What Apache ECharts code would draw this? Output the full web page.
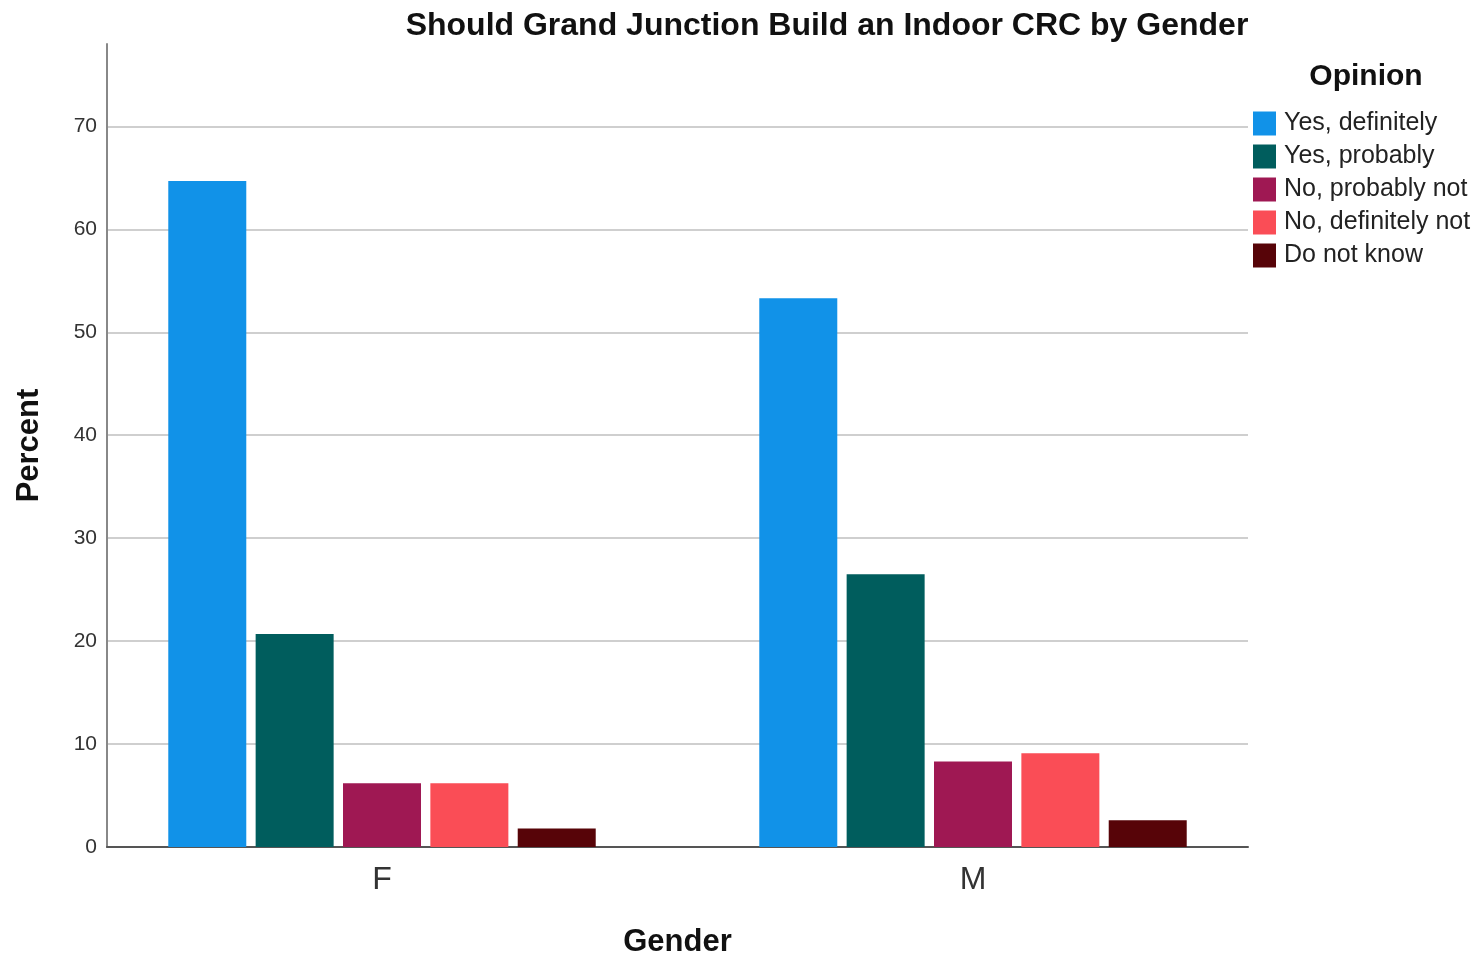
<!DOCTYPE html>
<html>
<head>
<meta charset="utf-8">
<script src="https://cdn.jsdelivr.net/npm/echarts@6/dist/echarts.min.js"></script>
<style>
html,body{margin:0;padding:0;background:#fff;}
#chart{width:1483px;height:959px;}
</style>
</head>
<body>
<div id="chart"></div>
<script>
// Data
var categories = ['F', 'M'];
var opinions = ['Yes, definitely', 'Yes, probably', 'No, probably not', 'No, definitely not', 'Do not know'];
var yesDefinitely = [64.7, 53.3];
var yesProbably = [20.7, 26.5];
var noProbablyNot = [6.2, 8.3];
var noDefinitelyNot = [6.2, 9.1];
var doNotKnow = [1.8, 2.6];
var yTicks = [0, 10, 20, 30, 40, 50, 60, 70];

var seriesValues = [yesDefinitely, yesProbably, noProbablyNot, noDefinitelyNot, doNotKnow];
var colors = ['#1192e8', '#005d5d', '#9f1853', '#fa4d56', '#570408'];

var chart = echarts.init(document.getElementById('chart'), null, {renderer: 'canvas'});
var font = 'Liberation Sans, Arial, sans-serif';

var series = opinions.map(function (name, i) {
  return {
    name: name,
    type: 'bar',
    xAxisIndex: 0,
    yAxisIndex: 0,
    data: seriesValues[i],
    barWidth: 78,
    barGap: '12%',
    itemStyle: {color: colors[i]},
    z: 3
  };
});

var option = {
  backgroundColor: '#ffffff',
  animation: false,
  color: colors,
  title: [
    {
      text: 'Should Grand Junction Build an Indoor CRC by Gender',
      left: 822, top: 5, textAlign: 'center',
      textStyle: {fontFamily: font, fontSize: 32, fontWeight: 'bold', color: '#111'}
    },
    {
      text: 'Opinion',
      left: 1361, top: 57, textAlign: 'center',
      textStyle: {fontFamily: font, fontSize: 30, fontWeight: 'bold', color: '#111'}
    }
  ],
  legend: {
    data: opinions,
    orient: 'vertical',
    left: 1253, top: 111,
    itemWidth: 23, itemHeight: 24, itemGap: 8,
    icon: 'rect',
    padding: 0,
    textStyle: {fontFamily: font, fontSize: 25, color: '#222', lineHeight: 24, padding: [0, 0, 0, 3]}
  },
  grid: [
    {left: 86.5, right: 214.5, top: 44, bottom: 112, containLabel: false, outerBoundsMode: 'none'},
    {left: 107, right: 235, top: 44, bottom: 112, containLabel: false, outerBoundsMode: 'none'}
  ],
  xAxis: [
    {
      gridIndex: 0, type: 'category', data: categories,
      axisLine: {show: false}, axisTick: {show: false},
      axisLabel: {fontFamily: font, fontSize: 32, color: '#333', margin: 17},
      splitLine: {show: false}
    },
    {
      gridIndex: 1, type: 'category', data: categories,
      axisLine: {show: true, lineStyle: {color: '#555', width: 2}},
      axisTick: {show: false}, axisLabel: {show: false},
      splitLine: {show: false},
      name: 'Gender', nameLocation: 'middle', nameGap: 80,
      nameTextStyle: {fontFamily: font, fontSize: 31, fontWeight: 'bold', color: '#111'}
    }
  ],
  yAxis: [
    {gridIndex: 0, type: 'value', min: 0, max: 78, show: false, splitLine: {show: false}},
    {
      gridIndex: 1, type: 'value', min: 0, max: 78, interval: 10,
      axisLine: {show: true, lineStyle: {color: '#888', width: 2}},
      axisTick: {show: false},
      axisLabel: {
        fontFamily: font, fontSize: 21, color: '#333', margin: 10, showMaxLabel: false,
        formatter: function (v) { return yTicks.indexOf(v) >= 0 ? String(v) : ''; }
      },
      splitLine: {show: true, showMaxLine: false, showMinLine: false, lineStyle: {color: '#cfcfcf', width: 2}},
      name: 'Percent', nameLocation: 'middle', nameGap: 62, nameRotate: 90,
      nameTextStyle: {fontFamily: font, fontSize: 31, fontWeight: 'bold', color: '#111'}
    }
  ],
  series: series
};
chart.setOption(option);
</script>
</body>
</html>
